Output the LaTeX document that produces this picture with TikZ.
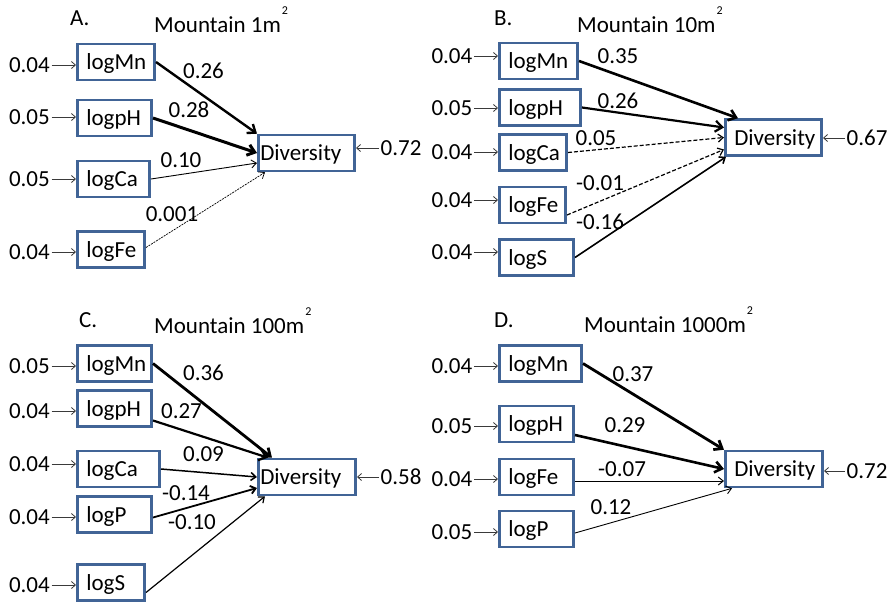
\documentclass[tikz,border=0pt]{standalone}
\usepackage{fontspec}
\setmainfont{Carlito}
\usetikzlibrary{arrows.meta}
\definecolor{boxblue}{HTML}{416496}
\definecolor{errgray}{HTML}{3A3A3A}
\newcommand{\sqm}{\hspace{1pt}\raisebox{18pt}{\fontsize{12}{12}\selectfont 2}}
\tikzset{
  vbox/.style={draw=boxblue, line width=2.6pt, minimum height=36pt, inner ysep=0pt,
    inner xsep=9pt, align=left, text width=#1, text depth=0pt},
  errlbl/.style={inner sep=1.5pt},
  coef/.style={inner sep=0pt},
  ttl/.style={anchor=base west, inner sep=0pt},
  err/.style={draw=errgray, line width=0.8pt, -{Straight Barb[length=4pt,width=7pt]}},
  eff/.style={draw=black, line width=#1, -{Straight Barb[length=7pt,width=11pt]}},
  thin/.style={draw=black, line width=#1, -{Straight Barb[length=5pt,width=8pt]}},
  fine/.style={thin=#1, dash pattern=on 2pt off 1pt},
  dsh/.style={thin=#1, dash pattern=on 4pt off 2pt}
}
\begin{document}
\begin{tikzpicture}[x=1pt, y=-1pt, font=\fontsize{23}{27}\selectfont]
\useasboundingbox (0,0) rectangle (893,603);

% ---------------- A: 1 m^2 ----------------
\node[ttl] (A) at (70,25) {A.};
\node[ttl] (tA) at (154,32) {Mountain 1m\sqm};
\node[vbox=59.4pt] (a1) at (116,62) {logMn};
\node[vbox=56.4pt] (a2) at (114.5,118) {logpH};
\node[vbox=54.4pt] (a3) at (113.5,179) {logCa};
\node[vbox=49.4pt] (a4) at (111,249.5) {logFe};
\node[vbox=92.4pt, inner xsep=2pt] (dA) at (306.5,153) {Diversity};
\node[errlbl, anchor=east] (ea1) at (51.5,65) {0.04};
\node[errlbl, anchor=east] (ea2) at (51.5,117) {0.05};
\node[errlbl, anchor=east] (ea3) at (51.5,179) {0.05};
\node[errlbl, anchor=east] (ea4) at (51.5,252) {0.04};
\node[errlbl, anchor=west] (eA) at (379,148) {0.72};
\foreach \e/\b in {ea1/a1, ea2/a2, ea3/a3, ea4/a4}
  \draw[err] (\e.east) -- (\e.east -| \b.west);
\draw[err] (eA.west) -- (eA.west -| dA.east);
\draw[eff=2.4pt] (a1.east) -- (dA.north west);
\draw[eff=3pt] (a2.east) -- (dA.west);
\draw[thin=0.9pt] (a3.east) -- ([yshift=-10pt]dA.west);
\draw[fine=0.7pt] ([yshift=2pt]a4.east) -- ([xshift=8pt]dA.south west);
\node[coef] (ka1) at (203.5,71) {0.26};
\node[coef] (ka2) at (189,110) {0.28};
\node[coef] (ka3) at (181,160) {0.10};
\node[coef] (ka4) at (172,214) {0.001};

% ---------------- B: 10 m^2 ----------------
\node[ttl] (B) at (494,25) {B.};
\node[ttl] (tB) at (577,32) {Mountain 10m\sqm};
\node[vbox=60.4pt] (b1) at (538.5,61) {logMn};
\node[vbox=63.4pt] (b2) at (540,107.5) {logpH};
\node[vbox=49.4pt] (b3) at (533,152.5) {logCa};
\node[vbox=48.4pt] (b4) at (532.5,205) {logFe};
\node[vbox=56.4pt] (b5) at (536.5,257.5) {logS};
\node[vbox=78.4pt] (dB) at (773.5,137.5) {Diversity};
\node[errlbl, anchor=east] (eb1) at (474,56) {0.04};
\node[errlbl, anchor=east] (eb2) at (474,108) {0.05};
\node[errlbl, anchor=east] (eb3) at (474,152) {0.04};
\node[errlbl, anchor=east] (eb4) at (474,200) {0.04};
\node[errlbl, anchor=east] (eb5) at (474,252) {0.04};
\node[errlbl, anchor=west] (eB) at (845,138) {0.67};
\foreach \e/\b in {eb1/b1, eb2/b2, eb3/b3, eb4/b4, eb5/b5}
  \draw[err] (\e.east) -- (\e.east -| \b.west);
\draw[err] (eB.west) -- (eB.west -| dB.east);
\draw[eff=2.6pt] (b1.east) -- ([xshift=14pt]dB.north west);
\draw[eff=2.2pt] (b2.east) -- ([yshift=10pt]dB.west);
\draw[dsh=1.2pt] (b3.east) -- (dB.west);
\draw[dsh=1.2pt] ([yshift=-10pt]b4.east) -- ([yshift=-12pt]dB.west);
\draw[thin=1.6pt] (b5.east) -- ([xshift=2pt]dB.south west);
\node[coef] (kb1) at (618,56) {0.35};
\node[coef] (kb2) at (618,101) {0.26};
\node[coef] (kb3) at (596,138) {0.05};
\node[coef] (kb4) at (600,183) {-0.01};
\node[coef] (kb5) at (600,222) {-0.16};

% ---------------- C: 100 m^2 ----------------
\node[ttl] (C) at (79,327) {C.};
\node[ttl] (tC) at (154,333) {Mountain 100m\sqm};
\node[vbox=56.4pt] (c1) at (114.5,363.5) {logMn};
\node[vbox=56.4pt] (c2) at (114.5,408.5) {logpH};
\node[vbox=64.4pt] (c3) at (118.5,469) {logCa};
\node[vbox=56.4pt] (c4) at (114.5,514.5) {logP};
\node[vbox=49.4pt] (c5) at (111,582.5) {logS};
\node[vbox=93.4pt, inner xsep=2pt] (dC) at (307,477) {Diversity};
\node[errlbl, anchor=east] (ec1) at (51.5,366) {0.05};
\node[errlbl, anchor=east] (ec2) at (51.5,411) {0.04};
\node[errlbl, anchor=east] (ec3) at (51.5,464) {0.04};
\node[errlbl, anchor=east] (ec4) at (51.5,517) {0.04};
\node[errlbl, anchor=east] (ec5) at (51.5,585) {0.04};
\node[errlbl, anchor=west] (eC) at (379,477) {0.58};
\foreach \e/\b in {ec1/c1, ec2/c2, ec3/c3, ec4/c4, ec5/c5}
  \draw[err] (\e.east) -- (\e.east -| \b.west);
\draw[err] (eC.west) -- (eC.west -| dC.east);
\draw[eff=2.8pt] (c1.east) -- ([xshift=15pt]dC.north west);
\draw[eff=2.2pt] ([yshift=-12pt]c2.east) -- ([xshift=11pt]dC.north west);
\draw[thin=1.5pt] (c3.east) -- (dC.west);
\draw[thin=1.8pt] ([yshift=-3pt]c4.east) -- ([yshift=-11pt]dC.west);
\draw[thin=1.2pt] ([yshift=-10pt]c5.east) -- ([xshift=8pt]dC.south west);
\node[coef] (kc1) at (203.5,373) {0.36};
\node[coef] (kc2) at (181.5,411) {0.27};
\node[coef] (kc3) at (203.5,454) {0.09};
\node[coef] (kc4) at (186,493) {-0.14};
\node[coef] (kc5) at (192,522) {-0.10};

% ---------------- D: 1000 m^2 ----------------
\node[ttl] (D) at (494,327) {D.};
\node[ttl] (tD) at (584,332) {Mountain 1000m\sqm};
\node[vbox=64.4pt] (d1) at (540.5,363.5) {logMn};
\node[vbox=56.4pt] (d2) at (536.5,424) {logpH};
\node[vbox=56.4pt] (d3) at (536.5,477) {logFe};
\node[vbox=56.4pt] (d4) at (536.5,529) {logP};
\node[vbox=79.4pt] (dD) at (774,469) {Diversity};
\node[errlbl, anchor=east] (ed1) at (474,366) {0.04};
\node[errlbl, anchor=east] (ed2) at (474,426) {0.05};
\node[errlbl, anchor=east] (ed3) at (474,479) {0.04};
\node[errlbl, anchor=east] (ed4) at (474,532) {0.05};
\node[errlbl, anchor=west] (eD) at (845,471) {0.72};
\foreach \e/\b in {ed1/d1, ed2/d2, ed3/d3, ed4/d4}
  \draw[err] (\e.east) -- (\e.east -| \b.west);
\draw[err] (eD.west) -- (eD.west -| dD.east);
\draw[eff=2.8pt] (d1.east) -- (dD.north west);
\draw[eff=2.6pt] ([yshift=-11pt]d2.east) -- (dD.west);
\draw[thin=1pt] ([yshift=-4pt]d3.east) -- ([yshift=-12pt]dD.west);
\draw[thin=0.9pt] ([yshift=-4pt]d4.east) -- ([xshift=8pt]dD.south west);
\node[coef] (kd1) at (633,374) {0.37};
\node[coef] (kd2) at (625,425) {0.29};
\node[coef] (kd3) at (622,469) {-0.07};
\node[coef] (kd4) at (611,507) {0.12};
\end{tikzpicture}
\end{document}
